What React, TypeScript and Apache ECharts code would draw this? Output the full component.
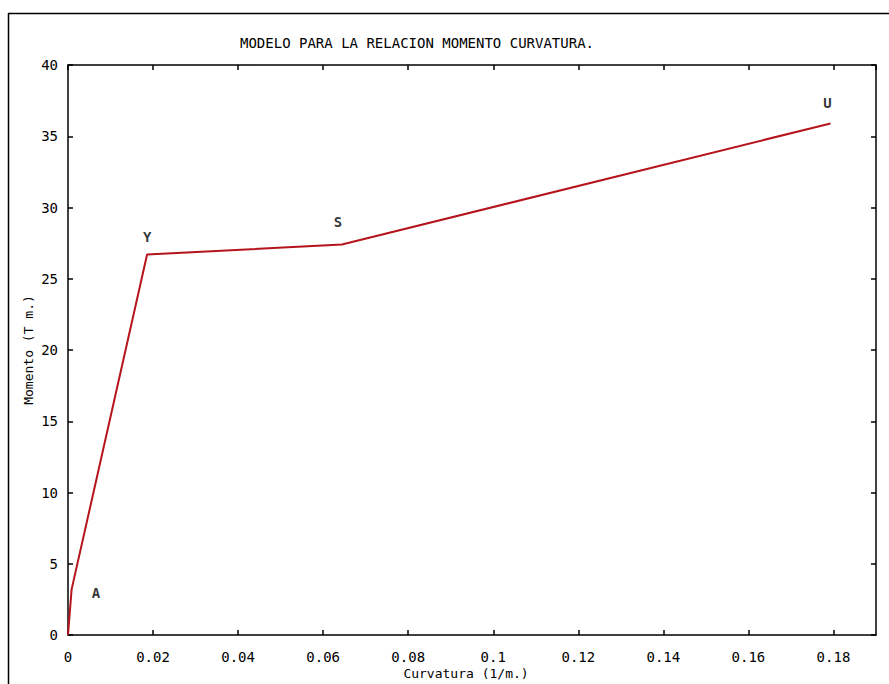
import React, { useEffect, useRef } from "react";
import * as echarts from "echarts";

const curvature = [0, 0.00085, 0.0186, 0.0644, 0.1793];
const moment = [0, 3.2, 26.7, 27.4, 35.9];
const pointNames = ["A", "Y", "S", "U"];
const labelX = [0.0066, 0.0186, 0.0635, 0.1786];
const labelY = [2.95, 27.9, 29.0, 37.3];
const xTicks = { min: 0, max: 0.19, interval: 0.02 };
const yTicks = { min: 0, max: 40, interval: 5 };
const title = "MODELO PARA LA RELACION MOMENTO CURVATURA.";
const xTitle = "Curvatura (1/m.)";
const yTitle = "Momento (T m.)";

const FONT = "DejaVu Sans Mono";

export default function App() {
  const ref = useRef<HTMLDivElement>(null);
  useEffect(() => {
    const chart = echarts.init(ref.current!, null, { renderer: "svg" });
    const axisLine = { show: true, onZero: false, lineStyle: { color: "#000", width: 1.5 } };
    const axisTick = { show: true, inside: true, length: 5, lineStyle: { color: "#000", width: 1.5 } };
    chart.setOption({
      animation: false,
      backgroundColor: "#fff",
      grid: { left: 68, top: 65, right: 13, bottom: 49 },
      graphic: [
        { type: "line", shape: { x1: 8, y1: 13.5, x2: 889, y2: 13.5 }, style: { stroke: "#000", lineWidth: 1.5 } },
        { type: "line", shape: { x1: 8.5, y1: 13, x2: 8.5, y2: 684 }, style: { stroke: "#000", lineWidth: 1.5 } },
        {
          type: "text", x: 417, y: 43,
          style: { text: title, fontFamily: FONT, fontSize: 14, fill: "#000", align: "center", verticalAlign: "middle" },
        },
        {
          type: "text", x: 466, y: 673,
          style: { text: xTitle, fontFamily: FONT, fontSize: 13, fill: "#000", align: "center", verticalAlign: "middle" },
        },
        {
          type: "text", x: 28, y: 350, rotation: Math.PI / 2,
          style: { text: yTitle, fontFamily: FONT, fontSize: 13, fill: "#000", align: "center", verticalAlign: "middle" },
        },
      ],
      xAxis: [
        {
          type: "value", ...xTicks, position: "bottom",
          axisLine, axisTick, splitLine: { show: false },
          axisLabel: {
            fontFamily: FONT, fontSize: 14, color: "#000", margin: 15, showMaxLabel: false,
            formatter: (v: number) => (Math.abs(v - 0.19) < 1e-9 ? "" : String(+v.toFixed(2))),
          },
        },
        {
          type: "value", ...xTicks, position: "top",
          axisLine, axisTick, splitLine: { show: false }, axisLabel: { show: false },
        },
      ],
      yAxis: [
        {
          type: "value", ...yTicks, position: "left",
          axisLine, axisTick, splitLine: { show: false },
          axisLabel: { fontFamily: FONT, fontSize: 14, color: "#000", margin: 10 },
        },
        {
          type: "value", ...yTicks, position: "right",
          axisLine, axisTick, splitLine: { show: false }, axisLabel: { show: false },
        },
      ],
      series: [
        {
          type: "line",
          data: curvature.map((c, i) => [c, moment[i]]),
          showSymbol: false,
          lineStyle: { color: "#b5141c", width: 2 },
        },
        {
          type: "scatter",
          data: labelX.map((x, i) => ({ value: [x, labelY[i]], name: pointNames[i] })),
          symbolSize: 1,
          itemStyle: { color: "rgba(0,0,0,0)" },
          label: {
            show: true, position: "inside", formatter: "{b}",
            fontFamily: FONT, fontSize: 14, fontWeight: "bold", color: "#000",
          },
        },
      ],
    });
    return () => chart.dispose();
  }, []);
  return <div ref={ref} style={{ width: 889, height: 684, position: "absolute", left: 0, top: 0 }} />;
}
